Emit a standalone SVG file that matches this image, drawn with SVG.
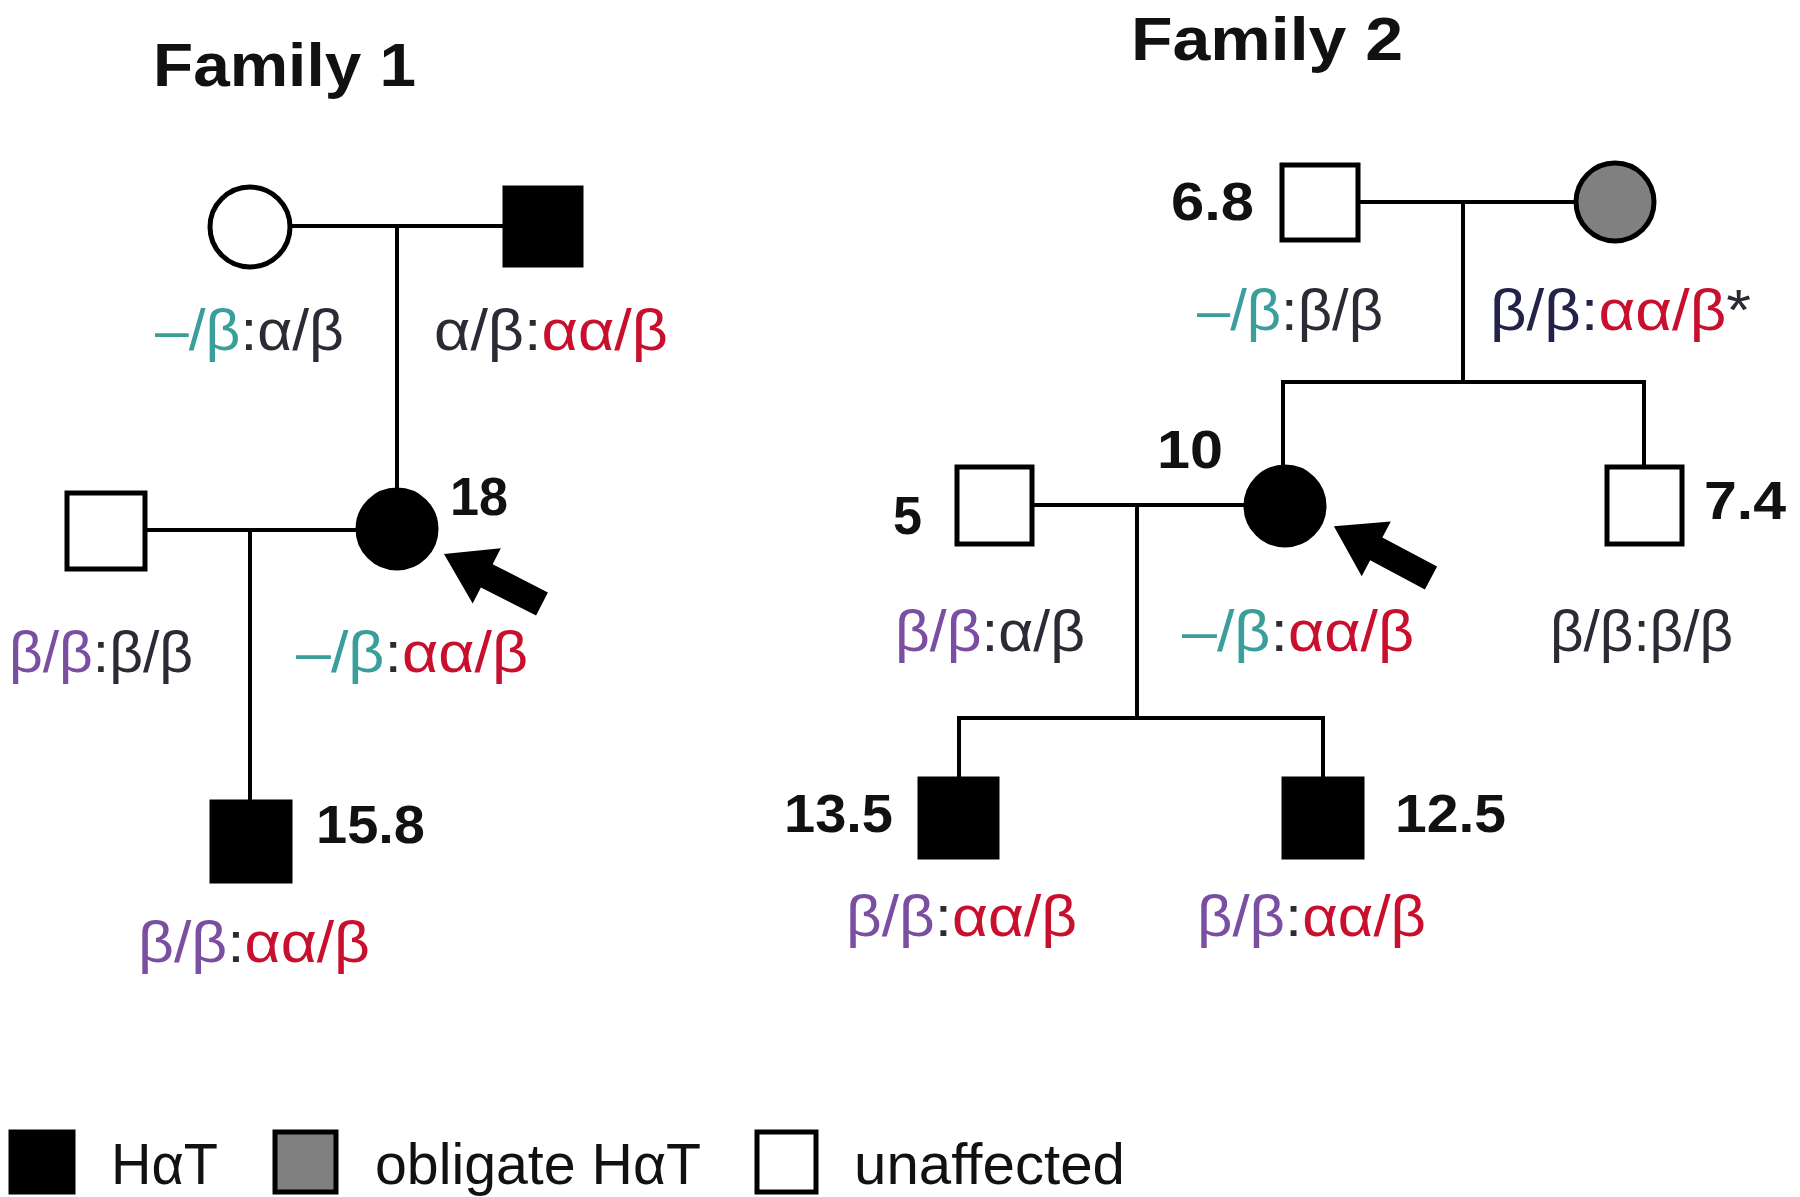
<svg xmlns="http://www.w3.org/2000/svg" width="1800" height="1197" viewBox="0 0 1800 1197">
<style>
.bg{fill:#fff}
.sym{stroke:#000;stroke-width:5}
.aff{fill:#000}
.un{fill:#fff}
.obl{fill:#808080}
.ln{stroke:#000;stroke-width:4;fill:none}
.title{font-family:"Liberation Sans",Arial,sans-serif;font-weight:bold;font-size:62px;fill:#111}
.num{font-family:"Liberation Sans",Arial,sans-serif;font-weight:bold;font-size:53px;fill:#111}
.gt{font-family:"Liberation Sans",Arial,sans-serif;font-size:57px;fill:#2b2b35}
.lg{font-family:"Liberation Sans",Arial,sans-serif;font-size:58px;fill:#111}
.t{fill:#3a9e9a}
.p{fill:#7a4ea0}
.r{fill:#c8102e}
.d{fill:#2b2b35}
.n{fill:#23234a}
.arrow{fill:#000}
</style>
<defs>
<path id="arr" d="M0,-13 L62,-13 L62,-31 L110,0 L62,31 L62,13 L0,13 Z"/>
</defs>
<rect class="bg" x="0" y="0" width="1800" height="1197"/>

<g id="connectors">
<!-- Family 1 -->
<line class="ln" x1="291" y1="226" x2="503" y2="226"/>
<line class="ln" x1="397" y1="226" x2="397" y2="488"/>
<line class="ln" x1="147" y1="530" x2="356" y2="530"/>
<line class="ln" x1="250" y1="530" x2="250" y2="800"/>
<!-- Family 2 -->
<line class="ln" x1="1360" y1="202" x2="1574" y2="202"/>
<line class="ln" x1="1463" y1="202" x2="1463" y2="382"/>
<line class="ln" x1="1281" y1="382" x2="1646" y2="382"/>
<line class="ln" x1="1283" y1="382" x2="1283" y2="465"/>
<line class="ln" x1="1644" y1="382" x2="1644" y2="465"/>
<line class="ln" x1="1034" y1="505" x2="1244" y2="505"/>
<line class="ln" x1="1137" y1="505" x2="1137" y2="718"/>
<line class="ln" x1="957" y1="718" x2="1325" y2="718"/>
<line class="ln" x1="959" y1="718" x2="959" y2="777"/>
<line class="ln" x1="1323" y1="718" x2="1323" y2="777"/>
</g>

<text class="title" x="153" y="86" textLength="263" lengthAdjust="spacingAndGlyphs">Family 1</text>
<text class="title" x="1131" y="60" textLength="272" lengthAdjust="spacingAndGlyphs">Family 2</text>

<!-- Family 1 nodes -->
<g id="f1-grandmother">
<circle class="sym un" cx="250" cy="227" r="40"/>
<text class="gt" x="155" y="350" textLength="189" lengthAdjust="spacingAndGlyphs"><tspan class="t">–/β</tspan><tspan class="d">:α/β</tspan></text>
</g>
<g id="f1-grandfather">
<rect class="sym aff" x="505" y="188" width="76" height="77"/>
<text class="gt" x="434" y="350" textLength="234" lengthAdjust="spacingAndGlyphs"><tspan class="d">α/β:</tspan><tspan class="r">αα/β</tspan></text>
</g>
<g id="f1-husband">
<rect class="sym un" x="67" y="493" width="78" height="76"/>
<text class="gt" x="9" y="672" textLength="184" lengthAdjust="spacingAndGlyphs"><tspan class="p">β/β</tspan><tspan class="d">:β/β</tspan></text>
</g>
<g id="f1-proband">
<circle class="sym aff" cx="397" cy="529" r="39"/>
<text class="num" x="450" y="515" textLength="58" lengthAdjust="spacingAndGlyphs">18</text>
<use href="#arr" class="arrow" transform="translate(542,604) rotate(207)"/>
<text class="gt" x="296" y="672" textLength="232" lengthAdjust="spacingAndGlyphs"><tspan class="t">–/β</tspan><tspan class="d">:</tspan><tspan class="r">αα/β</tspan></text>
</g>
<g id="f1-son">
<rect class="sym aff" x="212" y="802" width="78" height="79"/>
<text class="num" x="316" y="843" textLength="109" lengthAdjust="spacingAndGlyphs">15.8</text>
<text class="gt" x="138" y="962" textLength="232" lengthAdjust="spacingAndGlyphs"><tspan class="p">β/β</tspan><tspan class="d">:</tspan><tspan class="r">αα/β</tspan></text>
</g>

<!-- Family 2 nodes -->
<g id="f2-grandfather">
<rect class="sym un" x="1282" y="165" width="76" height="75"/>
<text class="num" x="1171" y="220" textLength="83" lengthAdjust="spacingAndGlyphs">6.8</text>
<text class="gt" x="1197" y="330" textLength="186" lengthAdjust="spacingAndGlyphs"><tspan class="t">–/β</tspan><tspan class="d">:β/β</tspan></text>
</g>
<g id="f2-grandmother">
<circle class="sym obl" cx="1615" cy="202" r="39"/>
<text class="gt" x="1490" y="330" textLength="261" lengthAdjust="spacingAndGlyphs"><tspan class="n">β/β:</tspan><tspan class="r">αα/β</tspan><tspan class="d">*</tspan></text>
</g>
<g id="f2-husband">
<rect class="sym un" x="957" y="467" width="75" height="77"/>
<text class="num" x="893" y="534" textLength="29" lengthAdjust="spacingAndGlyphs">5</text>
<text class="gt" x="895" y="651" textLength="190" lengthAdjust="spacingAndGlyphs"><tspan class="p">β/β</tspan><tspan class="d">:α/β</tspan></text>
</g>
<g id="f2-proband">
<circle class="sym aff" cx="1285" cy="506" r="39"/>
<text class="num" x="1157" y="468" textLength="66" lengthAdjust="spacingAndGlyphs">10</text>
<use href="#arr" class="arrow" transform="translate(1431,578) rotate(208)"/>
<text class="gt" x="1182" y="651" textLength="232" lengthAdjust="spacingAndGlyphs"><tspan class="t">–/β</tspan><tspan class="d">:</tspan><tspan class="r">αα/β</tspan></text>
</g>
<g id="f2-brother">
<rect class="sym un" x="1607" y="467" width="75" height="77"/>
<text class="num" x="1704" y="519" textLength="82" lengthAdjust="spacingAndGlyphs">7.4</text>
<text class="gt" x="1550" y="651" textLength="183" lengthAdjust="spacingAndGlyphs"><tspan class="d">β/β:β/β</tspan></text>
</g>
<g id="f2-son1">
<rect class="sym aff" x="920" y="779" width="77" height="78"/>
<text class="num" x="784" y="832" textLength="109" lengthAdjust="spacingAndGlyphs">13.5</text>
<text class="gt" x="846" y="936" textLength="231" lengthAdjust="spacingAndGlyphs"><tspan class="p">β/β</tspan><tspan class="d">:</tspan><tspan class="r">αα/β</tspan></text>
</g>
<g id="f2-son2">
<rect class="sym aff" x="1284" y="779" width="78" height="78"/>
<text class="num" x="1395" y="832" textLength="111" lengthAdjust="spacingAndGlyphs">12.5</text>
<text class="gt" x="1197" y="936" textLength="229" lengthAdjust="spacingAndGlyphs"><tspan class="p">β/β</tspan><tspan class="d">:</tspan><tspan class="r">αα/β</tspan></text>
</g>

<!-- Legend -->
<g id="legend">
<rect class="sym aff" x="11" y="1132" width="62" height="60"/>
<text class="lg" x="111" y="1184" textLength="107" lengthAdjust="spacingAndGlyphs">HαT</text>
<rect class="sym obl" x="275" y="1132" width="61" height="60"/>
<text class="lg" x="375" y="1184" textLength="326" lengthAdjust="spacingAndGlyphs">obligate HαT</text>
<rect class="sym un" x="757" y="1132" width="59" height="60"/>
<text class="lg" x="854" y="1184" textLength="271" lengthAdjust="spacingAndGlyphs">unaffected</text>
</g>
</svg>
